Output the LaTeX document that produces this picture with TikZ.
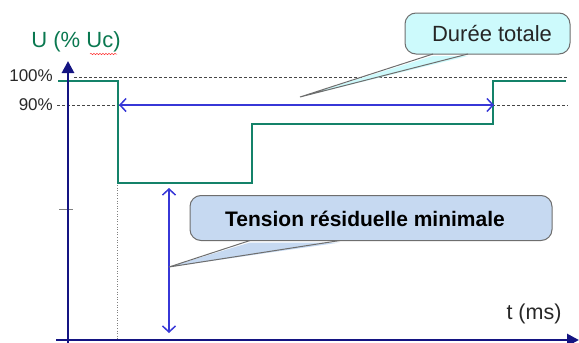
\documentclass[tikz,border=0pt]{standalone}
\usepackage{fontspec}
\setmainfont{Liberation Sans}
\usetikzlibrary{arrows.meta,decorations.pathmorphing}
\definecolor{axisblue}{RGB}{20,20,130}
\definecolor{arrblue}{RGB}{55,55,215}
\definecolor{sigcol}{RGB}{20,130,105}
\definecolor{labgreen}{RGB}{10,120,80}
\definecolor{dashgray}{RGB}{70,70,70}
\definecolor{calloutA}{RGB}{205,250,252}
\definecolor{calloutB}{RGB}{198,217,241}
\definecolor{calloutedge}{RGB}{110,110,110}
\definecolor{txtgray}{RGB}{40,40,40}
\tikzset{
  axisline/.style={draw=axisblue,line width=2.8pt,-{Triangle[length=12pt,width=12pt]}},
  sigline/.style={draw=sigcol,line width=1.9pt},
  refline/.style={draw=dashgray,densely dashed,line width=0.5pt},
  dimarrow/.style={draw=arrblue,line width=1.5pt,{Straight Barb[length=6pt,width=13pt]}-{Straight Barb[length=6pt,width=13pt]}},
  calloutbox/.style={draw=calloutedge,line width=1pt,rounded corners=11pt,inner sep=0pt},
  ticklab/.style={text=txtgray,anchor=east,inner sep=0pt},
}
\begin{document}
\begin{tikzpicture}[x=1pt,y=-1pt]
\useasboundingbox (0,0) rectangle (579,343);
% reference coordinates
\coordinate (ybot) at (68,343);
\coordinate (ytop) at (68,61);
\coordinate (xl) at (56,340);
\coordinate (xr) at (579,340);
% dashed reference levels
\coordinate (d100a) at (74,77);
\coordinate (d100b) at (568,77);
\coordinate (d90a) at (57,105);
\coordinate (d90b) at (568,105);
\draw[refline] (d100a) -- (d100b);
\draw[refline] (d90a) -- (d90b);
% tick
\coordinate (tka) at (59,209);
\coordinate (tkb) at (73,209);
\draw[draw=gray,line width=0.6pt] (tka) -- (tkb);
% signal
\coordinate (s0) at (58,81);
\coordinate (s1) at (118,81);
\coordinate (s2) at (118,183);
\coordinate (s3) at (252,183);
\coordinate (s4) at (252,124);
\coordinate (s5) at (493,124);
\coordinate (s6) at (493,81);
\coordinate (s7) at (566,81);
\draw[sigline] (s0) -- (s1) -- (s2) -- (s3) -- (s4) -- (s5) -- (s6) -- (s7);
% dotted vertical
\coordinate (dv) at (117,339);
\draw[draw=gray,dotted,line width=0.6pt] (117,185) -- (dv);
% axes
\draw[axisline] (ybot) -- (ytop);
\draw[axisline] (xl) -- (xr);
% dimension arrows
\coordinate (ha) at (119,105);
\coordinate (hb) at (494,105);
\draw[dimarrow] (ha) -- (hb);
\coordinate (va) at (169,188);
\coordinate (vb) at (169,333);
\draw[dimarrow] (va) -- (vb);
% labels
\node[text=labgreen,font=\fontsize{22}{26}\selectfont,inner sep=0pt] (ulab) at (76,42) {U (\% Uc)};
\draw[red!80,line width=0.5pt,decorate,decoration={snake,amplitude=0.7pt,segment length=3pt}] (90,54) -- (117,54);
\node[ticklab,font=\fontsize{17}{20}\selectfont] (l100) at (53,76) {100\%};
\node[ticklab,font=\fontsize{17}{20}\selectfont] (l90) at (53,105) {90\%};
\node[text=txtgray,font=\fontsize{21.5}{25}\selectfont,inner sep=0pt] (tlab) at (534,314) {t (ms)};
% callout 1
\node[calloutbox,fill=calloutA,minimum width=165pt,minimum height=41pt] (cA) at (487.5,33.5) {};
\coordinate (cAtip) at (300,97);
\coordinate (cAb1) at (433,54);
\coordinate (cAb2) at (468,54);
\fill[calloutA] ([yshift=-2pt]cAb1) -- (cAtip) -- ([yshift=-2pt]cAb2) -- cycle;
\draw[draw=calloutedge,line width=1pt] (cAb1) -- (cAtip) -- (cAb2);
\node[font=\fontsize{22}{26}\selectfont,text=black!85,inner sep=0pt] (cAt) at (492,34) {Durée totale};
% callout 2
\node[calloutbox,fill=calloutB,minimum width=362pt,minimum height=45pt] (cB) at (371,218) {};
\coordinate (cBtip) at (169,267);
\coordinate (cBb1) at (250,240.5);
\coordinate (cBb2) at (340,240.5);
\fill[calloutB] ([yshift=-2pt]cBb1) -- (cBtip) -- ([yshift=-2pt]cBb2) -- cycle;
\draw[draw=calloutedge,line width=1pt] (cBb1) -- (cBtip) -- (cBb2);
\node[font=\bfseries\fontsize{21}{25}\selectfont,text=black,inner sep=0pt] (cBt) at (365,219) {Tension résiduelle minimale};
\end{tikzpicture}
\end{document}
